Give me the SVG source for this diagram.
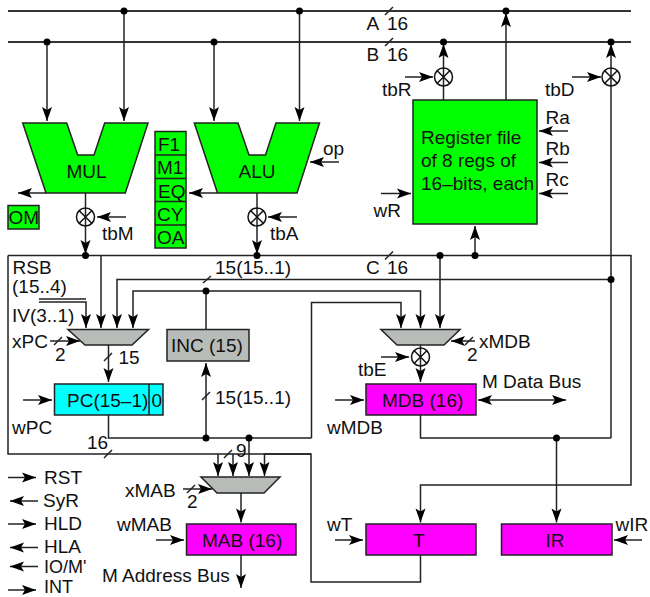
<svg xmlns="http://www.w3.org/2000/svg" width="650" height="597" viewBox="0 0 650 597">
<style>
text{font-family:"Liberation Sans",Arial,sans-serif;font-size:19px;fill:#111}
text.s{font-size:18px}
.n{stroke:#222;stroke-width:1.5}
.g{fill:#00ff00}.m{fill:#ff00ff}.y{fill:#b8bcb8}.c{fill:#00ffff}
#connectors path{fill:none;stroke:#222;stroke-width:1.5}
#connectors path.a{marker-end:url(#arr)}
#connectors path.b{stroke-width:2;stroke:#333}
#connectors circle{fill:#000;stroke:none}
.x{fill:none;stroke:#111;stroke-width:1.5}
</style>
<defs>
<marker id="arr" markerUnits="userSpaceOnUse" markerWidth="16" markerHeight="14" refX="15" refY="7" orient="auto"><path d="M15,7 L1,2 L4,7 L1,12 Z" fill="#000"/></marker>
<marker id="arrs" markerUnits="userSpaceOnUse" markerWidth="16" markerHeight="14" refX="15" refY="7" orient="auto-start-reverse"><path d="M15,7 L1,2 L4,7 L1,12 Z" fill="#000"/></marker>
</defs>
<rect width="650" height="597" fill="#fff"/>
<g id="connectors">
<path class="b" d="M8,11H631M8,42H631"/>
<path d="M8,255.500H631V485H420.500V522.500" class="a"/>
<path d="M8,255.500V454H311V582H420.500V555"/>
<path class="a" d="M47,42V121"/><path class="a" d="M124,11V121"/><path class="a" d="M214,42V121"/><path class="a" d="M299.500,11V121"/>
<path class="a" d="M443.500,100V44"/><path class="a" d="M506,100V13"/><path class="a" d="M611,438V44"/>
<path class="a" d="M85.500,193V254"/><path class="a" d="M257,193V254"/>
<path class="a" d="M46,193H18"/><path class="a" d="M217.500,193H189"/>
<path class="a" d="M126,217H97"/><path class="a" d="M297,217H268"/>
<path class="a" d="M405,77H433"/><path class="a" d="M572,77H601"/>
<path class="a" d="M339,162H310"/>
<path class="a" d="M568,131H539"/><path class="a" d="M568,162.500H539"/><path class="a" d="M568,193.500H539"/>
<path class="a" d="M381,193.500H411"/><path class="a" d="M475,255.500V226"/>
<path class="a" d="M101,255.500V328"/>
<path class="a" d="M611,279.500H117V328"/>
<path class="a" d="M206,329V291H133V328"/>
<path class="a" d="M206,291H420.500V328"/>
<path class="a" d="M311.500,438V302.500H401V328"/>
<path class="a" d="M440,255.500V328"/>
<path d="M39,299H86"/><path class="a" d="M39,302H86V328"/>
<path class="a" d="M108.500,345V382"/>
<path d="M108.500,415V438H311.500"/>
<path class="a" d="M206,438V363"/>
<path class="a" d="M50,341H80"/>
<path class="a" d="M23,400H52"/>
<path class="a" d="M420.500,345V382"/>
<path class="a" d="M475,341H451"/>
<path class="a" d="M381,357H409"/>
<path class="a" d="M335,400H364"/>
<path d="M478,400H566" style="marker-start:url(#arrs);marker-end:url(#arr)"/>
<path d="M420.500,415V438H611"/>
<path class="a" d="M556.500,438V522.500"/>
<path class="a" d="M218,454V476"/><path class="a" d="M233,454V476"/><path class="a" d="M249,438V476"/><path class="a" d="M311,454H264.500V476"/>
<path class="a" d="M183,489H212"/>
<path class="a" d="M241,493V522.500"/>
<path class="a" d="M241,555V588"/>
<path class="a" d="M156,540H184"/>
<path class="a" d="M335,540H363"/>
<path class="a" d="M642,540H614"/>
<path class="a" d="M8,477.500H36"/><path class="a" d="M38,501H10"/><path class="a" d="M8,524H36"/><path class="a" d="M38,547.500H10"/><path class="a" d="M38,566.500H10"/><path class="a" d="M8,590H36"/>
<path d="M385,15L393,7M385,46L393,38M385,259.500L393,251.500M203,283L211,276M202,400L210,392M104,361L112,353M54,345L62,337M465,345L473,337M104,458L112,450M224,458L232,450M187,493L195,485"/>
<circle cx="124" cy="11" r="3.500"/><circle cx="299.500" cy="11" r="3.500"/><circle cx="506" cy="11" r="3.500"/>
<circle cx="47" cy="42" r="3.500"/><circle cx="214" cy="42" r="3.500"/><circle cx="443.500" cy="42" r="3.500"/><circle cx="611" cy="42" r="3.500"/>
<circle cx="85.500" cy="255.500" r="3.500"/><circle cx="257" cy="255.500" r="3.500"/><circle cx="440" cy="255.500" r="3.500"/><circle cx="475" cy="255.500" r="3.500"/>
<circle cx="611" cy="279.500" r="3.500"/><circle cx="206" cy="291" r="3.500"/>
<circle cx="206" cy="438" r="3.500"/><circle cx="249" cy="438" r="3.500"/><circle cx="556.500" cy="438" r="3.500"/>
</g>
<g id="xor-mul"><circle class="x" cx="85.500" cy="217" r="9"/><path class="x" d="M79,210.500L92,223.500M92,210.500L79,223.500"/></g>
<g id="xor-alu"><circle class="x" cx="257" cy="217" r="9"/><path class="x" d="M250.500,210.500L263.500,223.500M263.500,210.500L250.500,223.500"/></g>
<g id="xor-r"><circle class="x" cx="443.500" cy="77" r="9"/><path class="x" d="M437,70.500L450,83.500M450,70.500L437,83.500"/></g>
<g id="xor-d"><circle class="x" cx="611" cy="77" r="9"/><path class="x" d="M604.500,70.500L617.500,83.500M617.500,70.500L604.500,83.500"/></g>
<g id="xor-e"><circle class="x" cx="420.500" cy="357" r="9"/><path class="x" d="M414,350.500L427,363.500M427,350.500L414,363.500"/></g>
<g id="mul"><path class="n g" d="M22.700,123H66.700L77.700,155H94L104.700,123H148L125.300,193H46Z"/><text x="66.500" y="178">MUL</text></g>
<g id="alu"><path class="n g" d="M194.300,123H238L249,155H265.500L276,123H319.500L297,193H217.500Z"/><text x="238.500" y="178">ALU</text></g>
<g id="flags"><rect class="n g" x="155" y="131.500" width="31" height="116.500"/><path class="n" d="M155,155H186M155,178.500H186M155,201.500H186M155,225H186"/>
<text x="158" y="151">F1</text><text x="157" y="174">M1</text><text x="158" y="198">EQ</text><text x="157" y="221">CY</text><text x="157" y="244">OA</text></g>
<g id="om"><rect class="n g" x="8" y="205.500" width="31" height="23.500"/><text x="8.500" y="224">OM</text></g>
<g id="regfile"><rect class="n g" x="413" y="100" width="124" height="124"/><text x="421" y="144">Register file</text><text x="421" y="166.500">of 8 regs of</text><text x="421" y="189.500">16–bits, each</text></g>
<g id="mux-pc"><path class="n y" d="M68,329.500H148.500L132,345H85Z"/></g>
<g id="mux-mdb"><path class="n y" d="M381,329.500H460L444,345H397Z"/></g>
<g id="mux-mab"><path class="n y" d="M201,477H280L264,493H217Z"/></g>
<g id="inc"><rect class="n y" x="167" y="329.500" width="82" height="31.500"/><text x="171" y="351.500">INC (15)</text></g>
<g id="pc"><rect class="n c" x="54.500" y="384" width="108.500" height="31"/><path class="n" d="M149,384V415"/><text x="67" y="407">PC(15–1)</text><text x="151.500" y="407">0</text></g>
<g id="mdb"><rect class="n m" x="366" y="384" width="110" height="31"/><text x="382" y="407">MDB (16)</text></g>
<g id="mab"><rect class="n m" x="186.500" y="524" width="109.500" height="31"/><text x="202" y="547">MAB (16)</text></g>
<g id="t"><rect class="n m" x="366" y="524" width="110" height="31"/><text x="413" y="547">T</text></g>
<g id="ir"><rect class="n m" x="501.500" y="524" width="110.500" height="31"/><text x="545.500" y="547">IR</text></g>
<g id="labels">
<text x="366.500" y="30">A</text><text x="387" y="30">16</text>
<text x="366.500" y="61">B</text><text x="387" y="61">16</text>
<text x="366" y="274">C</text><text x="387" y="274">16</text>
<text x="382" y="96">tbR</text><text x="545" y="96">tbD</text><text x="373.500" y="217">wR</text>
<text x="545.500" y="124">Ra</text><text x="545.500" y="155">Rb</text><text x="545.500" y="186">Rc</text>
<text x="323" y="155">op</text><text x="102" y="240">tbM</text><text x="270" y="240">tbA</text>
<text x="12.500" y="274">RSB</text><text x="12" y="293">(15..4)</text><text x="12" y="322">IV(3..1)</text>
<text x="12" y="348">xPC</text><text x="55" y="361">2</text><text x="118.500" y="364">15</text>
<text x="215" y="274">15(15..1)</text><text x="215" y="404">15(15..1)</text>
<text x="12" y="434">wPC</text><text x="87" y="449">16</text><text x="236" y="457">9</text>
<text x="479" y="348">xMDB</text><text x="467" y="361">2</text><text x="358" y="376">tbE</text>
<text x="482" y="388">M Data Bus</text><text x="327" y="434">wMDB</text>
<text x="125" y="497">xMAB</text><text x="187" y="508">2</text><text x="117" y="531">wMAB</text>
<text x="102" y="582">M Address Bus</text><text x="327" y="531">wT</text><text x="615.500" y="531">wIR</text>
<text x="44" y="484">RST</text><text x="43" y="507">SyR</text><text x="44" y="530">HLD</text><text x="44" y="553">HLA</text><text class="s" x="44" y="572.500">IO/M'</text><text class="s" x="44" y="593">INT</text>
</g>
</svg>
